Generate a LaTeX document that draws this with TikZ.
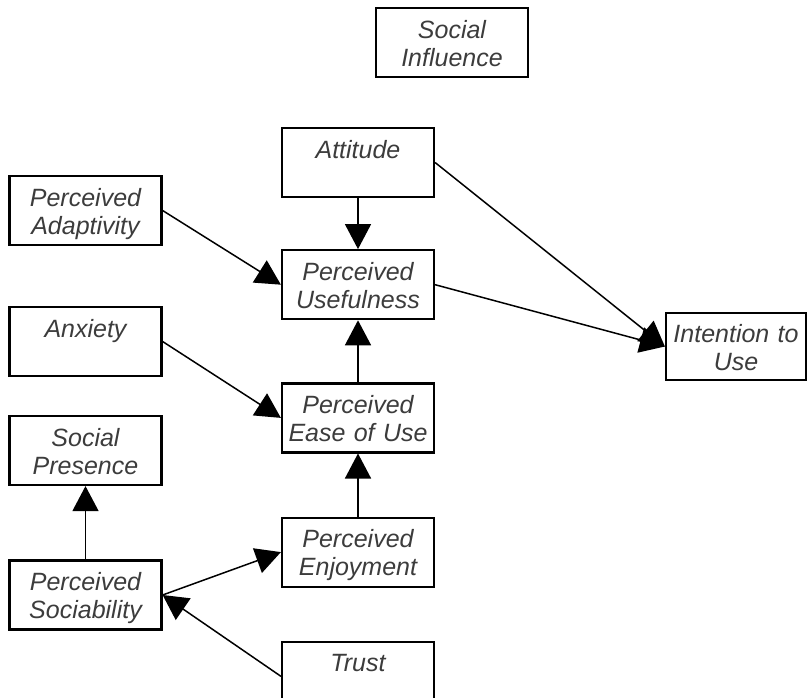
\documentclass[tikz,border=0pt]{standalone}
\usepackage{fontspec}
\setmainfont{Liberation Sans}
\usetikzlibrary{arrows.meta,positioning}
\definecolor{txtgray}{HTML}{3C3C3C}
\tikzset{
    -{Triangle[length=25pt,width=26pt]},x=1pt,y=-1pt,
    factor/.style ={rectangle, draw, line width=2.2pt, minimum width=152pt, minimum height=69pt,
        text width=152pt, inner sep=0pt, align=center, text=txtgray,
        font=\fontsize{25}{28}\selectfont\itshape,
        execute at begin node={\rule{0pt}{27.5pt}}, execute at end node={\strut}}
}
\begin{document}
\begin{tikzpicture}[line width=1.5pt]

    \useasboundingbox (0,0) rectangle (808,698);

    \node[factor] (sinf) at (452,42.5) {Social\\Influence};

    % middle column, top to bottom
    \node[factor] (att) at (358,162.5) {Attitude\\\mbox{}};
    \node[factor] (use) [below = 51pt of att] {Perceived\\Usefulness};
    \node[factor] (ease) [below = 62pt of use] {Perceived\\Ease of Use};
    \node[factor] (enj) [below = 63pt of ease] {Perceived\\Enjoyment};
    \node[factor] (trust) [below = 53pt of enj] {Trust\\\mbox{}};

    % left column
    \node[factor] (adapt) at (85.5,210.5) {Perceived\\Adaptivity};
    \node[factor] (anx) at (85.5,341.5) {Anxiety\\\mbox{}};
    \node[factor] (sp) at (85.5,450.5) {Social\\Presence};
    \node[factor] (soc) at (85.5,595) {Perceived\\Sociability};

    \node[factor, text width=140pt, minimum width=140pt, minimum height=67pt] (int) at (736,346.5) {Intention to\\Use};

    % paths into usefulness and ease of use
    \path (att) edge (use);
    \path (adapt.east) edge (use.west);
    \path (ease) edge (use);
    \path (anx.east) edge (ease.west);
    \path (enj) edge (ease);

    % sociability
    \path (soc) edge (sp);
    \path (soc.east) edge (enj.west);
    \path (trust.west) edge (soc.east);

    % intention
    \path (att.east) edge (int.west);
    \path (use.east) edge (int.west);

\end{tikzpicture}
\end{document}
